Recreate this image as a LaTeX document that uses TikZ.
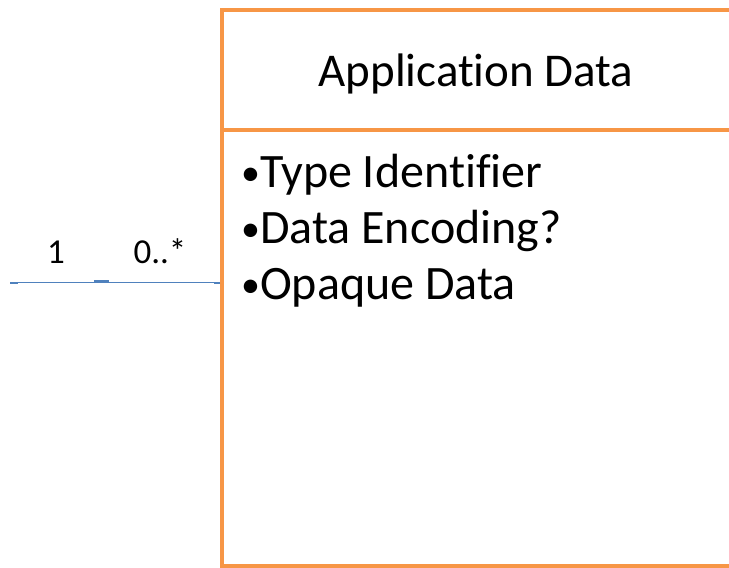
\documentclass[tikz,border=0pt]{standalone}
\usepackage{fontspec}
\setmainfont[Ligatures=CommonOff]{Carlito}
\definecolor{boxorange}{RGB}{247,150,70}
\definecolor{linkblue}{RGB}{79,129,189}
\newcommand{\smallbul}{{\fontsize{38}{40}\selectfont\raisebox{2pt}{•}}}
\begin{document}
\begin{tikzpicture}[x=1pt,y=-1pt,
  boxline/.style={draw=boxorange,line width=4.5pt},
  title/.style={font=\fontsize{47}{56}\selectfont,anchor=base,inner sep=0pt},
  attr/.style={font=\fontsize{48}{56}\selectfont,anchor=base west,inner sep=0pt},
  mult/.style={font=\fontsize{35}{42}\selectfont,anchor=base,inner sep=0pt},
  link/.style={draw=linkblue,line width=1pt},
  tick/.style={draw=linkblue,line width=2pt}]
\useasboundingbox (0,0) rectangle (729,568);
\draw[boxline] (729,10) -- (222,10) -- (222,566) -- (729,566);
\draw[boxline] (222,130) -- (729,130);
\coordinate (boxleft) at (220,282.3);
\coordinate (lineend) at (10,282.3);
\node[title] (t) at (476,86) {Application Data};
\node[attr] (a1) at (241,187) {\smallbul Type Identifier};
\node[attr] (a2) at (241,243) {\smallbul Data Encoding?};
\node[attr] (a3) at (241,299) {\smallbul Opaque Data};
\node[mult] (m1) at (56,263) {1};
\node[mult] (m2) at (160,263) {0..*};
\draw[link] (lineend) -- (boxleft);
\draw[tick] ([yshift=-1pt]lineend) -- ++(8,0);
\draw[tick] ([shift={(84,-1)}]lineend) -- ++(15,0);
\draw[tick] ([yshift=-1pt]boxleft) -- ++(-6,0);
\end{tikzpicture}
\end{document}
